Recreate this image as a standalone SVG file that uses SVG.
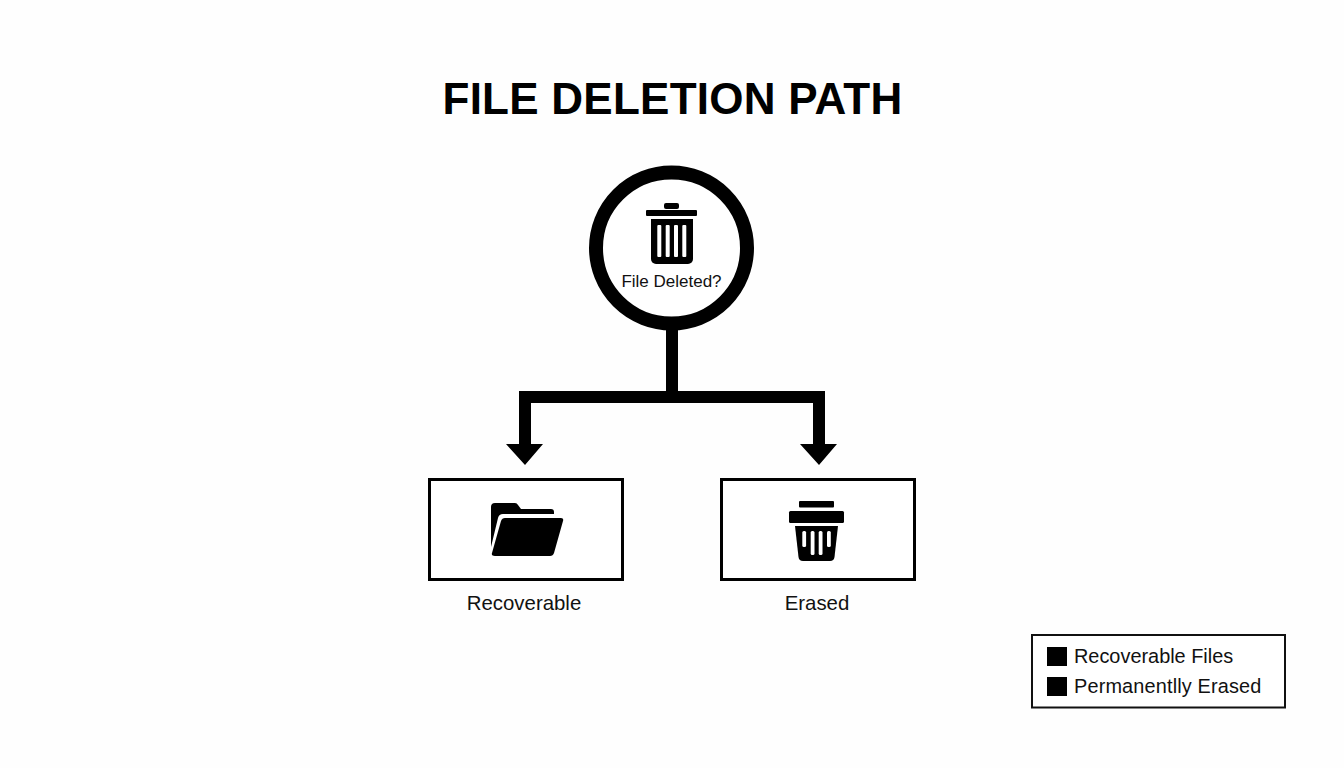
<svg xmlns="http://www.w3.org/2000/svg" width="1344" height="768" viewBox="0 0 1344 768">
<style>
text{font-family:"Liberation Sans",Arial,sans-serif;fill:#111}
.lbl{font-size:20.4px;text-anchor:middle}
.leg{font-size:19.9px}
.box{fill:#fff;stroke:#000;stroke-width:3}
.ink{fill:#000}
.slot{fill:#fff}
</style>
<rect width="1344" height="768" fill="#fefefe"/>
<text id="title" x="672.500" y="114" font-size="44" font-weight="700" text-anchor="middle" letter-spacing="0.250" style="fill:#000">FILE DELETION PATH</text>
<g id="connectors">
<path class="ink" d="M666 325H678V391H825V444H837L819 465L800 444H813V403H531V444H543L525 465L506 444H519V391H666Z"/>
</g>
<g id="node-deleted">
<circle cx="671.5" cy="248" r="75.5" fill="#fff" stroke="#000" stroke-width="14"/>
<rect class="ink" x="664" y="203" width="15" height="6" rx="2"/>
<rect class="ink" x="646" y="210" width="51" height="6" rx="1"/>
<path class="ink" d="M651 219H693V259a5 5 0 0 1-5 5H656a5 5 0 0 1-5-5Z"/>
<rect class="slot" x="657.3" y="225" width="4" height="32" rx="1"/>
<rect class="slot" x="665.7" y="225" width="4" height="32" rx="1"/>
<rect class="slot" x="674" y="225" width="4" height="32" rx="1"/>
<rect class="slot" x="682.3" y="225" width="4" height="32" rx="1"/>
<text x="671.500" y="287" font-size="17" text-anchor="middle">File Deleted?</text>
</g>
<g id="node-recoverable">
<rect class="box" x="429.5" y="479.5" width="193" height="100"/>
<path class="ink" d="M491 507Q491 503 495 503H515Q517 503 518 505L521 509H551Q554 509 554 512V514H503Q499 514 498 518L491 547Z"/>
<path class="ink" d="M505 518H561Q564 518 563 521L554 553Q553 556 550 556H495Q491 556 492 553L501 521Q502 518 505 518Z"/>
<text class="lbl" x="524" y="610">Recoverable</text>
</g>
<g id="node-erased">
<rect class="box" x="721.5" y="479.5" width="193" height="100"/>
<rect class="ink" x="799" y="501" width="35" height="6.5" rx="1"/>
<rect class="ink" x="789" y="511" width="55" height="12" rx="1.5"/>
<path class="ink" d="M795 526H838L834.500 557Q834 561 830 561H803Q799 561 798.500 557Z"/>
<rect class="slot" x="802.300" y="531" width="3.800" height="16" rx="1.500"/>
<rect class="slot" x="810.700" y="531" width="3.800" height="24" rx="1.500"/>
<rect class="slot" x="818.700" y="531" width="3.800" height="24" rx="1.500"/>
<rect class="slot" x="827" y="531" width="3.800" height="16" rx="1.500"/>
<text class="lbl" x="817" y="610">Erased</text>
</g>
<g id="legend">
<rect x="1032" y="635" width="253" height="72.500" fill="#fff" stroke="#111" stroke-width="2"/>
<rect class="ink" x="1047" y="647" width="20" height="19"/>
<rect class="ink" x="1047" y="677" width="20" height="19"/>
<text class="leg" x="1074" y="663">Recoverable Files</text>
<text class="leg" x="1074" y="693" letter-spacing="0.150">Permanentlly Erased</text>
</g>
</svg>
